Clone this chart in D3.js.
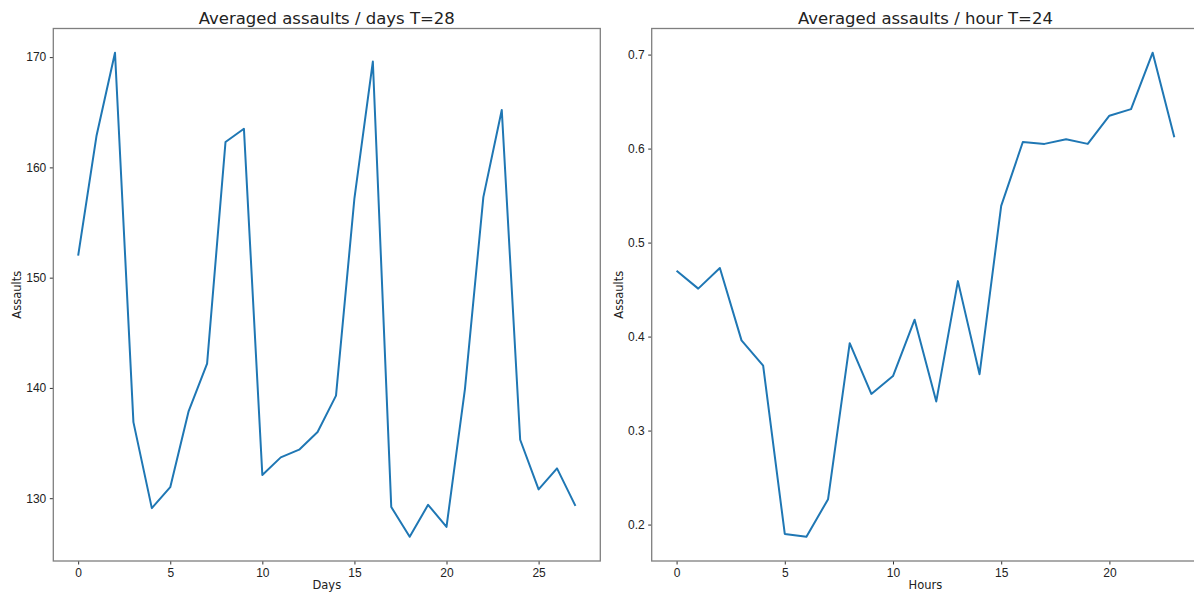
<!DOCTYPE html>
<html>
<head>
<meta charset="utf-8">
<script src="https://cdn.jsdelivr.net/npm/d3@7"></script>
<style>
  body { margin: 0; background: #fff; }
  svg { display: block; font-family: "DejaVu Sans", sans-serif; }
  .axis path { display: none; }
  .axis line { stroke: #333; }
  .axis text { fill: #222; font-size: 12px; }
</style>
</head>
<body>
<svg width="1194" height="592"></svg>
<script>

// data
var days = d3.range(28);
var dayValues = [152.0, 162.9, 170.4, 136.9, 129.1, 131.0, 137.9, 142.2, 162.3, 163.5,
                 132.1, 133.7, 134.4, 136.0, 139.3, 157.2, 169.6, 129.2, 126.5, 129.4,
                 127.4, 139.9, 157.3, 165.2, 135.3, 130.8, 132.7, 129.3];
var dayTicksX = [0, 5, 10, 15, 20, 25];
var dayTicksY = [130, 140, 150, 160, 170];

var hours = d3.range(24);
var hourValues = [0.470, 0.451, 0.473, 0.396, 0.369, 0.190, 0.187, 0.227, 0.393, 0.339,
                  0.358, 0.418, 0.331, 0.459, 0.360, 0.539, 0.607, 0.605, 0.610, 0.605,
                  0.635, 0.642, 0.702, 0.612];
var hourTicksX = [0, 5, 10, 15, 20];
var hourTicksY = [0.2, 0.3, 0.4, 0.5, 0.6, 0.7];

var svg = d3.select("svg");

// one panel = frame + axes + line
function panel(opts) {
  var left = opts.left, right = opts.right, top = 28.5, bottom = 561;

  var xs = opts.xs, ys = opts.ys;
  var xpad = (d3.max(xs) - d3.min(xs)) * 0.05;
  var ypad = (d3.max(ys) - d3.min(ys)) * 0.05;

  var x = d3.scaleLinear()
      .domain([d3.min(xs) - xpad, d3.max(xs) + xpad])
      .range([left, right]);
  var y = d3.scaleLinear()
      .domain([d3.min(ys) - ypad, d3.max(ys) + ypad])
      .range([bottom, top]);

  var g = svg.append("g");

  g.append("g")
      .attr("class", "axis")
      .attr("transform", "translate(0," + bottom + ")")
      .call(d3.axisBottom(x).tickValues(opts.ticksX).tickSize(3.5).tickPadding(4)
        .tickFormat(d3.format("d")));

  g.append("g")
      .attr("class", "axis")
      .attr("transform", "translate(" + left + ",0)")
      .call(d3.axisLeft(y).tickValues(opts.ticksY).tickSize(3.5).tickPadding(3.5)
        .tickFormat(opts.fmt));

  g.append("path")
      .datum(xs.map(function(d, i) { return [d, ys[i]]; }))
      .attr("fill", "none")
      .attr("stroke", "#1f77b4")
      .attr("stroke-width", 2)
      .attr("stroke-linejoin", "round")
      .attr("d", d3.line()
        .x(function(d) { return x(d[0]); })
        .y(function(d) { return y(d[1]); }));

  g.append("rect")
      .attr("x", left).attr("y", top)
      .attr("width", right - left).attr("height", bottom - top)
      .attr("fill", "none")
      .attr("stroke", "#7f7f7f")
      .attr("stroke-width", 1.3);

  g.append("text")
      .attr("x", (left + right) / 2)
      .attr("y", 24)
      .attr("text-anchor", "middle")
      .style("font-size", "16.5px")
      .style("fill", "#222")
      .text(opts.title);

  g.append("text")
      .attr("x", (left + right) / 2)
      .attr("y", 589)
      .attr("text-anchor", "middle")
      .style("font-size", "11.5px")
      .style("fill", "#222")
      .text(opts.xlabel);

  g.append("text")
      .attr("transform", "translate(" + opts.ylabelX + "," + ((top + bottom) / 2) + ") rotate(-90)")
      .attr("text-anchor", "middle")
      .style("font-size", "11.5px")
      .style("fill", "#222")
      .text("Assaults");
}

panel({
  left: 53.3, right: 600.3,
  xs: days, ys: dayValues,
  ticksX: dayTicksX, ticksY: dayTicksY,
  fmt: d3.format("d"),
  title: "Averaged assaults / days T=28",
  xlabel: "Days",
  ylabelX: 21
});

panel({
  left: 651.7, right: 1199.2,
  xs: hours, ys: hourValues,
  ticksX: hourTicksX, ticksY: hourTicksY,
  fmt: d3.format(".1f"),
  title: "Averaged assaults / hour T=24",
  xlabel: "Hours",
  ylabelX: 623
});

</script>
</body>
</html>
